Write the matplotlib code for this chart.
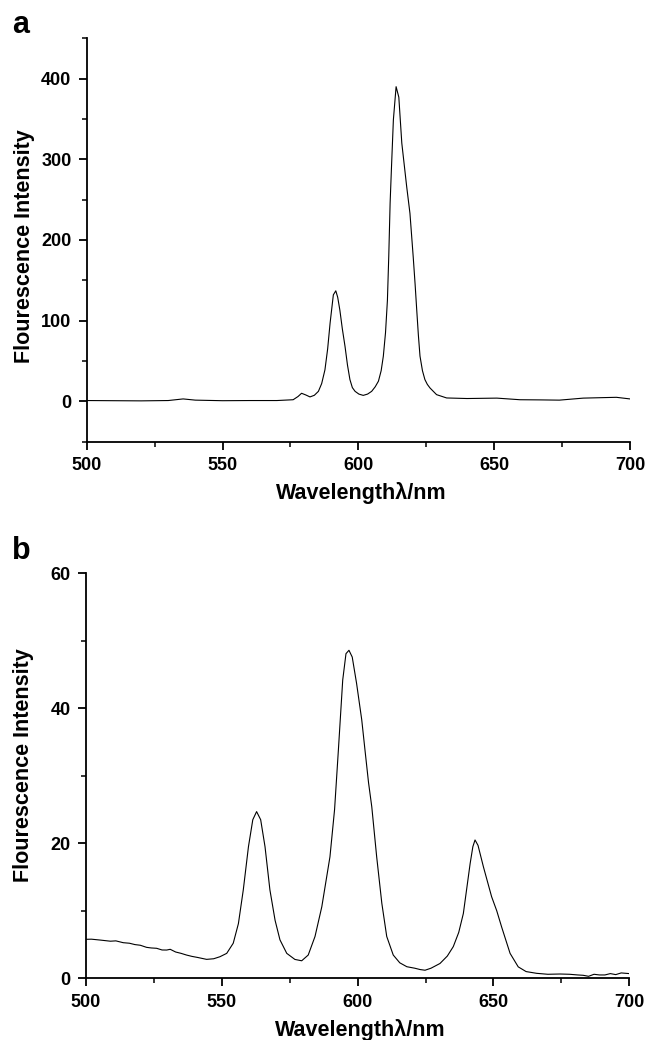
import matplotlib.pyplot as plt
from matplotlib.ticker import MultipleLocator

plt.rcParams['font.family'] = ['Liberation Sans', 'DejaVu Sans']
plt.rcParams['font.weight'] = 'bold'

# panel a: emission spectrum
wl_a = [500, 510, 520, 530, 535.5, 540, 550, 560, 570, 576, 577.8, 579.1, 580.6,
        582.2, 583.8, 585.3, 586.5, 587.7, 588.7, 589.6, 590.8, 591.7, 592.4,
        593.2, 594.1, 595.1, 596.0, 596.9, 597.8, 598.8, 600.2, 601.8, 603.4,
        604.9, 606.2, 607.4, 608.4, 609.2, 610.0, 610.7, 611.2, 611.7, 612.2,
        612.9, 613.9, 614.9, 616, 617.8, 619, 620.2, 620.9, 621.5, 622.1,
        622.7, 623.6, 624.5, 625.4, 626.4, 628.8, 632.5, 640, 651, 659.5, 667,
        674, 682.8, 690, 695, 700]
int_a = [1, 0.8, 0.6, 1, 3, 1.5, 0.8, 1, 1, 2, 6, 10, 8,
         5.5, 7.5, 12.4, 22, 39, 65, 97, 132, 137, 129,
         113, 90, 68, 45, 27, 17, 12.4, 9, 7.4, 9,
         12.4, 18, 25, 38, 56, 85, 125, 180, 246, 290,
         349, 390, 377, 320, 266, 233, 179, 145, 113, 82,
         56, 38, 27, 21, 16.5, 8.3, 4.2, 3.5, 4, 2, 1.8,
         1.5, 4, 4.6, 5, 3]

# panel b: emission spectrum
wl_b = [500, 502, 505.2, 509, 511, 513.7, 516, 518, 520, 522.3, 524, 526, 528,
        529.7, 531, 533, 535, 537, 539, 541, 544.4, 547, 549.3, 551.8, 554.2,
        556.1, 557.9, 559.8, 561.4, 562.8, 564.3, 565.9, 567.7, 569.6, 571.4,
        573.9, 576.9, 579.4, 581.8, 584.3, 586.8, 589.8, 591.5, 592.9, 594.5,
        595.7, 596.8, 598, 599.6, 601.5, 602.7, 604, 605.2, 607, 608.9, 610.7,
        613.1, 615.5, 618.1, 621, 623, 624.8, 627, 630.3, 633, 635.2, 637.2,
        638.9, 641.4, 642.4, 643.2, 644.3, 646.3, 649.3, 651.2, 653, 656.1,
        659.1, 662, 665.9, 670, 674.5, 678, 681, 683, 685, 687, 689, 691,
        693, 695, 697, 700]
int_b = [5.78, 5.8, 5.67, 5.5, 5.55, 5.28, 5.2, 5.0, 4.9, 4.59, 4.5, 4.45, 4.2,
         4.19, 4.3, 3.9, 3.7, 3.45, 3.25, 3.1, 2.81, 2.9, 3.2, 3.7, 5.2,
         8.1, 13.1, 19.5, 23.5, 24.7, 23.5, 19.5, 13.1, 8.6, 5.7,
         3.7, 2.8, 2.6, 3.45, 6.2, 10.6, 18, 25, 33.8, 44.2,
         48.1, 48.6, 47.6, 43.7, 38.3, 33.8, 29, 25.4, 18, 11.1, 6.2,
         3.45, 2.3, 1.72, 1.5, 1.3, 1.2, 1.5, 2.2, 3.3, 4.7, 6.8,
         9.6, 17, 19.5, 20.5, 19.7, 16.5, 12.1, 10, 7.6, 3.7,
         1.7, 1.0, 0.74, 0.6, 0.64, 0.6, 0.5, 0.45, 0.3, 0.6, 0.5, 0.5,
         0.7, 0.55, 0.8, 0.7]

fig = plt.figure(figsize=(6.47, 10.4), dpi=100)
ax_a = fig.add_axes([0.134, 0.5753, 0.8397, 0.3879])
ax_b = fig.add_axes([0.1329, 0.0593, 0.8398, 0.3894])


def style(ax, ymaj, ymin, ylab_pos):
    for s in ['top', 'right']:
        ax.spines[s].set_visible(False)
    for s in ['left', 'bottom']:
        ax.spines[s].set_linewidth(1.3)
    ax.set_xlim(500, 700)
    ax.xaxis.set_major_locator(MultipleLocator(50))
    ax.xaxis.set_minor_locator(MultipleLocator(25))
    ax.yaxis.set_major_locator(MultipleLocator(ymaj))
    ax.yaxis.set_minor_locator(MultipleLocator(ymin))
    ax.tick_params(which='major', length=6, width=1.3, labelsize=13, pad=5)
    ax.tick_params(which='minor', length=3.5, width=1.1)
    ax.set_xlabel('Wavelengthλ/nm', fontsize=15.5, fontweight='bold', va='center')
    ax.set_ylabel('Flourescence Intensity', fontsize=15.5, fontweight='bold', va='center')
    ax.xaxis.set_label_coords(0.505, -0.127)
    ax.yaxis.set_label_coords(ylab_pos[0], ylab_pos[1])


ax_a.plot(wl_a, int_a, color='black', lw=0.8)
style(ax_a, 100, 50, (-0.1154, 0.485))
ax_a.set_ylim(-50, 450)

ax_b.plot(wl_b, int_b, color='black', lw=0.8)
style(ax_b, 20, 10, (-0.1141, 0.527))
ax_b.set_ylim(0, 60)

fig.text(12 / 647, 1 - 33 / 1040, 'a', fontsize=22, fontweight='bold', va='baseline')
fig.text(12 / 647, 1 - 559 / 1040, 'b', fontsize=22, fontweight='bold', va='baseline')

fig.savefig('out.png', dpi=100)
